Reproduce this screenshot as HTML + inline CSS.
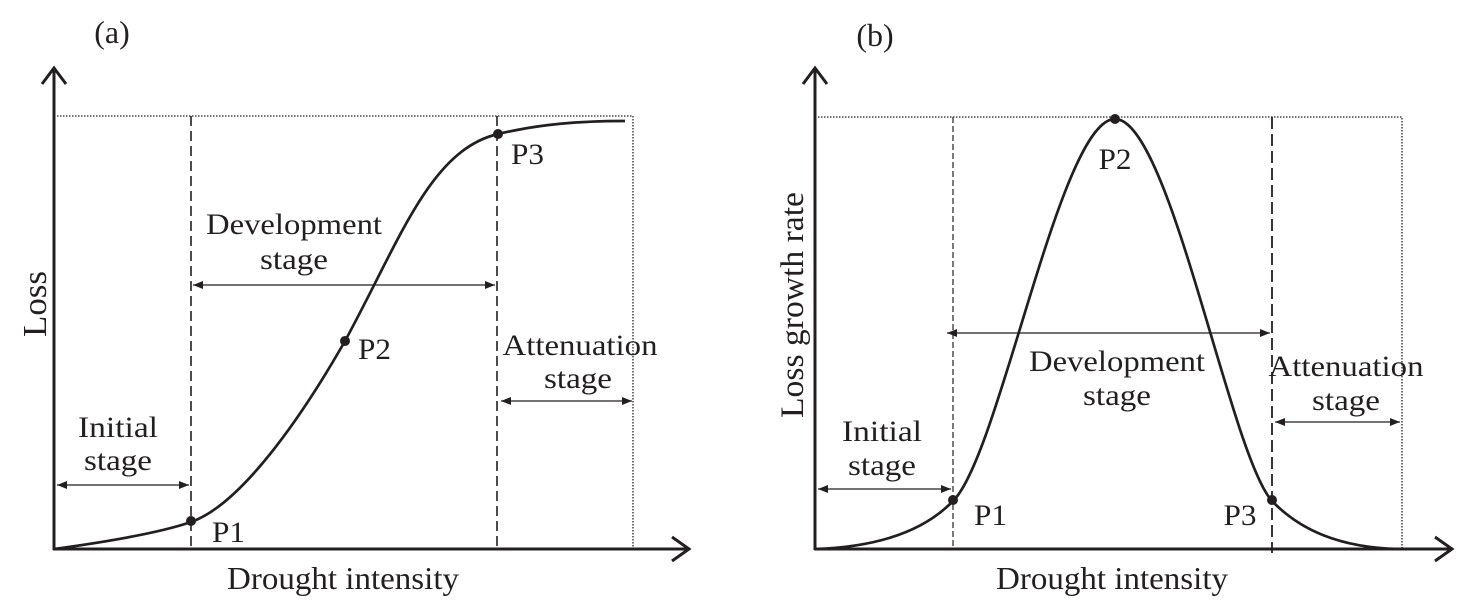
<!DOCTYPE html>
<html><head><meta charset="utf-8"><style>
html,body{margin:0;padding:0;background:#fff}
svg{display:block}
text{font-family:"Liberation Serif",serif;fill:#231f20}
</style></head><body>
<svg width="1472" height="613" viewBox="0 0 1472 613" xmlns="http://www.w3.org/2000/svg">
<defs>
<marker id="ah" viewBox="0 0 10 10" refX="10" refY="5" markerWidth="10" markerHeight="10" markerUnits="userSpaceOnUse" orient="auto-start-reverse">
<path d="M0,1 L10,5 L0,9 z" fill="#231f20"/></marker>
</defs>
<g stroke="#231f20" fill="none">
<path d="M54,550 V70" stroke-width="3"/>
<path d="M42,84 L54,68 L66,84" stroke-width="3"/>
<path d="M53,549 H688" stroke-width="3"/>
<path d="M672,537 L689,549 L672,561" stroke-width="3"/>
<path d="M54,116 H633 V549" stroke-width="1.3" stroke-dasharray="1.5,1.5"/>
<path d="M191,116 V549" stroke-width="1.6" stroke-dasharray="10,5"/>
<path d="M497,116 V549" stroke-width="1.6" stroke-dasharray="10,5"/>
<path d="M54,549 C120,540 165,531 191,522 C240,505 300,420 345,341 C400,240 430,150 498,134 C540,124 580,121 625,121" stroke-width="2.7"/>
<path d="M57,485 H189" stroke-width="1.3" marker-start="url(#ah)" marker-end="url(#ah)"/>
<path d="M193,285 H495" stroke-width="1.3" marker-start="url(#ah)" marker-end="url(#ah)"/>
<path d="M501,401 H632" stroke-width="1.3" marker-start="url(#ah)" marker-end="url(#ah)"/>
<path d="M815,550 V70" stroke-width="3"/>
<path d="M803,84 L815,68 L827,84" stroke-width="3"/>
<path d="M814,549 H1451" stroke-width="3"/>
<path d="M1435,537 L1452,549 L1435,561" stroke-width="3"/>
<path d="M815,117 H1402 V549" stroke-width="1.3" stroke-dasharray="1.5,1.5"/>
<path d="M953,117 V549" stroke-width="1.2" stroke-dasharray="6,3"/>
<path d="M1272,117 V553" stroke-width="1.8" stroke-dasharray="12,5"/>
<path d="M815,549 C880,547 925,530 953,501 C1000,455 1060,119 1115,119 C1170,119 1230,455 1272,501 C1300,530 1340,548 1400,549" stroke-width="2.7"/>
<path d="M947,333 H1270" stroke-width="1.3" marker-start="url(#ah)" marker-end="url(#ah)"/>
<path d="M818,489 H951" stroke-width="1.3" marker-start="url(#ah)" marker-end="url(#ah)"/>
<path d="M1275,422 H1400" stroke-width="1.3" marker-start="url(#ah)" marker-end="url(#ah)"/>
</g>
<g fill="#231f20">
<circle cx="191" cy="521" r="5"/><circle cx="345" cy="341" r="5"/><circle cx="498" cy="134" r="5"/>
<circle cx="953" cy="500" r="5"/><circle cx="1115" cy="119" r="5"/><circle cx="1272" cy="500" r="5"/>
</g>
<g font-size="30">
<text x="112" y="43" text-anchor="middle" font-size="32">(a)</text>
<text x="875" y="46" text-anchor="middle" font-size="32">(b)</text>
<text transform="translate(46,304) rotate(-90)" text-anchor="middle" font-size="34" textLength="66" lengthAdjust="spacingAndGlyphs">Loss</text>
<text transform="translate(803,305) rotate(-90)" text-anchor="middle" font-size="33" textLength="226" lengthAdjust="spacingAndGlyphs">Loss growth rate</text>
<text x="343" y="589" text-anchor="middle" font-size="32" textLength="232" lengthAdjust="spacingAndGlyphs">Drought intensity</text>
<text x="1112" y="589" text-anchor="middle" font-size="32" textLength="232" lengthAdjust="spacingAndGlyphs">Drought intensity</text>
<text x="294" y="234" text-anchor="middle" textLength="176" lengthAdjust="spacingAndGlyphs">Development</text>
<text x="294" y="269" text-anchor="middle" textLength="68" lengthAdjust="spacingAndGlyphs">stage</text>
<text x="118" y="437" text-anchor="middle" textLength="80" lengthAdjust="spacingAndGlyphs">Initial</text>
<text x="118" y="470" text-anchor="middle" textLength="68" lengthAdjust="spacingAndGlyphs">stage</text>
<text x="580" y="355" text-anchor="middle" textLength="155" lengthAdjust="spacingAndGlyphs">Attenuation</text>
<text x="578" y="388" text-anchor="middle" textLength="68" lengthAdjust="spacingAndGlyphs">stage</text>
<text x="212" y="542" textLength="33" lengthAdjust="spacingAndGlyphs">P1</text>
<text x="358" y="359" textLength="33" lengthAdjust="spacingAndGlyphs">P2</text>
<text x="511" y="164" textLength="33" lengthAdjust="spacingAndGlyphs">P3</text>
<text x="1117" y="371" text-anchor="middle" textLength="176" lengthAdjust="spacingAndGlyphs">Development</text>
<text x="1117" y="405" text-anchor="middle" textLength="68" lengthAdjust="spacingAndGlyphs">stage</text>
<text x="882" y="441" text-anchor="middle" textLength="80" lengthAdjust="spacingAndGlyphs">Initial</text>
<text x="882" y="475" text-anchor="middle" textLength="68" lengthAdjust="spacingAndGlyphs">stage</text>
<text x="1346" y="376" text-anchor="middle" textLength="155" lengthAdjust="spacingAndGlyphs">Attenuation</text>
<text x="1346" y="410" text-anchor="middle" textLength="68" lengthAdjust="spacingAndGlyphs">stage</text>
<text x="974" y="525" textLength="33" lengthAdjust="spacingAndGlyphs">P1</text>
<text x="1115" y="169" text-anchor="middle" textLength="33" lengthAdjust="spacingAndGlyphs">P2</text>
<text x="1240" y="525" text-anchor="middle" textLength="33" lengthAdjust="spacingAndGlyphs">P3</text>
</g>
</svg>
</body></html>
